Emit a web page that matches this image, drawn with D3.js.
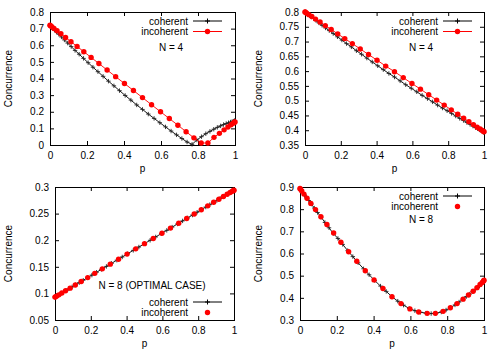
<!DOCTYPE html>
<html>
<head>
<meta charset="utf-8">
<script src="https://cdn.jsdelivr.net/npm/d3@7"></script>
<style>
  html, body { margin: 0; padding: 0; background: #fff; }
  svg { display: block; }
  text { font-family: "Liberation Sans", Arial, Helvetica, sans-serif; font-size: 10px; fill: #000; }
</style>
</head>
<body>
<svg id="chart" width="500" height="350"></svg>
<script>
// ---------------- DATA ----------------
// p sampling of the incoherent series (33 points)
const pIncoherent = [0, 0.0024, 0.0096, 0.0215, 0.0381, 0.0590, 0.0843, 0.1135, 0.1464, 0.1828,
  0.2222, 0.2643, 0.3087, 0.3549, 0.4025, 0.4510, 0.5, 0.5490, 0.5975, 0.6451, 0.6913, 0.7357,
  0.7778, 0.8172, 0.8536, 0.8865, 0.9157, 0.9410, 0.9619, 0.9785, 0.9904, 0.9976, 1];
// p sampling of the coherent series (51 points)
const pCoherent = [0, 0.00099, 0.00394, 0.00886, 0.01571, 0.02447, 0.03511, 0.04759, 0.06185,
  0.07784, 0.09549, 0.11474, 0.13552, 0.15773, 0.18129, 0.20611, 0.23209, 0.25912, 0.28711,
  0.31594, 0.34549, 0.37566, 0.40631, 0.43733, 0.46860, 0.5, 0.53140, 0.56267, 0.59369, 0.62434,
  0.65451, 0.68406, 0.71289, 0.74088, 0.76791, 0.79389, 0.81871, 0.84227, 0.86448, 0.88526,
  0.90451, 0.92216, 0.93815, 0.95241, 0.96489, 0.97553, 0.98429, 0.99114, 0.99606, 0.99901, 1];

// Panel A (top-left, N = 4)
const aCoherent = [0.720, 0.719, 0.715, 0.710, 0.702, 0.692, 0.680, 0.666, 0.650, 0.632, 0.613,
  0.592, 0.569, 0.546, 0.521, 0.495, 0.468, 0.441, 0.413, 0.384, 0.356, 0.327, 0.298, 0.270,
  0.241, 0.214, 0.186, 0.160, 0.134, 0.109, 0.084, 0.061, 0.039, 0.018, 0.004, 0.030, 0.050,
  0.068, 0.082, 0.095, 0.106, 0.115, 0.123, 0.129, 0.134, 0.138, 0.141, 0.143, 0.145, 0.146, 0.146];
const aIncoherent = [0.720, 0.718, 0.712, 0.701, 0.687, 0.669, 0.647, 0.621, 0.593, 0.561, 0.527,
  0.490, 0.451, 0.411, 0.370, 0.328, 0.285, 0.242, 0.200, 0.159, 0.119, 0.080, 0.043, 0.012,
  0.012, 0.046, 0.070, 0.091, 0.108, 0.122, 0.131, 0.137, 0.139];

// Panel B (top-right, N = 4)
const bCoherent = [0.800, 0.800, 0.798, 0.796, 0.793, 0.788, 0.783, 0.778, 0.771, 0.763, 0.755,
  0.746, 0.737, 0.727, 0.716, 0.705, 0.693, 0.682, 0.669, 0.657, 0.644, 0.631, 0.618, 0.605,
  0.592, 0.580, 0.567, 0.554, 0.542, 0.530, 0.518, 0.507, 0.496, 0.485, 0.475, 0.466, 0.457,
  0.448, 0.440, 0.433, 0.426, 0.420, 0.414, 0.409, 0.405, 0.401, 0.398, 0.396, 0.394, 0.393, 0.393];
const bIncoherent = [0.800, 0.799, 0.796, 0.791, 0.785, 0.776, 0.766, 0.754, 0.741, 0.726, 0.710,
  0.693, 0.675, 0.656, 0.637, 0.617, 0.598, 0.578, 0.558, 0.539, 0.520, 0.502, 0.485, 0.469,
  0.454, 0.441, 0.429, 0.419, 0.410, 0.404, 0.399, 0.396, 0.395];

// Panel C (bottom-left, N = 8 optimal case)
const cCoherent = [0.0930, 0.0932, 0.0938, 0.0948, 0.0962, 0.0979, 0.1001, 0.1026, 0.1054, 0.1086,
  0.1122, 0.1161, 0.1202, 0.1247, 0.1294, 0.1344, 0.1397, 0.1451, 0.1507, 0.1565, 0.1624, 0.1685,
  0.1747, 0.1809, 0.1872, 0.1935, 0.1998, 0.2061, 0.2123, 0.2185, 0.2246, 0.2305, 0.2363, 0.2419,
  0.2473, 0.2526, 0.2576, 0.2623, 0.2668, 0.2709, 0.2748, 0.2784, 0.2816, 0.2844, 0.2869, 0.2891,
  0.2908, 0.2922, 0.2932, 0.2938, 0.2940];
const cIncoherent = [0.0930, 0.0935, 0.0949, 0.0973, 0.1007, 0.1049, 0.1099, 0.1158, 0.1224, 0.1297,
  0.1377, 0.1461, 0.1550, 0.1643, 0.1739, 0.1837, 0.1935, 0.2033, 0.2131, 0.2227, 0.2320, 0.2409,
  0.2493, 0.2573, 0.2646, 0.2712, 0.2771, 0.2821, 0.2863, 0.2897, 0.2921, 0.2935, 0.2940];

// Panel D (bottom-right, N = 8)
const dCoherent = [0.893, 0.892, 0.888, 0.883, 0.875, 0.865, 0.853, 0.839, 0.823, 0.805, 0.785,
  0.764, 0.740, 0.716, 0.690, 0.668, 0.641, 0.613, 0.586, 0.558, 0.531, 0.504, 0.478, 0.453,
  0.429, 0.405, 0.385, 0.367, 0.352, 0.342, 0.335, 0.331, 0.329, 0.331, 0.336, 0.345, 0.356,
  0.368, 0.381, 0.394, 0.406, 0.417, 0.428, 0.437, 0.446, 0.454, 0.462, 0.467, 0.473, 0.477, 0.479];
const dIncoherent = [0.893, 0.890, 0.882, 0.868, 0.849, 0.826, 0.798, 0.766, 0.731, 0.693, 0.651,
  0.608, 0.565, 0.522, 0.481, 0.442, 0.405, 0.374, 0.350, 0.336, 0.330, 0.330, 0.339, 0.355,
  0.374, 0.394, 0.413, 0.430, 0.446, 0.460, 0.469, 0.476, 0.479];

// Tick values
const xTicks = [0, 0.2, 0.4, 0.6, 0.8, 1];
const aYTicks = [0, 0.1, 0.2, 0.3, 0.4, 0.5, 0.6, 0.7, 0.8];
const bYTicks = [0.35, 0.4, 0.45, 0.5, 0.55, 0.6, 0.65, 0.7, 0.75, 0.8];
const cYTicks = [0.05, 0.1, 0.15, 0.2, 0.25, 0.3];
const dYTicks = [0.3, 0.4, 0.5, 0.6, 0.7, 0.8, 0.9];

const seriesNames = ["coherent", "incoherent"];
const panelNotes = ["N = 4", "N = 4", "N = 8 (OPTIMAL CASE)", "N = 8"];
const xLabel = "p";
const yLabel = "Concurrence";

// ---------------- LAYOUT ----------------
const panels = [
  { x0: 50, x1: 235, y0: 12, y1: 145, yDom: [0, 0.8], yTicks: aYTicks, coh: aCoherent, inc: aIncoherent,
    incLine: true, legX: 188, legY: 21, note: panelNotes[0], noteX: 171, noteY: 47, yLabX: 8 },
  { x0: 305, x1: 484, y0: 12, y1: 145, yDom: [0.35, 0.8], yTicks: bYTicks, coh: bCoherent, inc: bIncoherent,
    incLine: true, legX: 438, legY: 21, note: panelNotes[1], noteX: 421, noteY: 47, yLabX: 258 },
  { x0: 55, x1: 234, y0: 187, y1: 320, yDom: [0.05, 0.3], yTicks: cYTicks, coh: cCoherent, inc: cIncoherent,
    incLine: false, legX: 188, legY: 302, note: panelNotes[2], noteX: 152, noteY: 285, yLabX: 8 },
  { x0: 300, x1: 484, y0: 187, y1: 320, yDom: [0.3, 0.9], yTicks: dYTicks, coh: dCoherent, inc: dIncoherent,
    incLine: false, legX: 438, legY: 196, note: panelNotes[3], noteX: 421, noteY: 219, yLabX: 258 }
];

const svg = d3.select("#chart");
const RED = "#ff0000";
const BLACK = "#000000";
const TICK = 4;

function crossPath(cx, cy, r) {
  return `M${cx - r},${cy}H${cx + r}M${cx},${cy - r}V${cy + r}`;
}

panels.forEach(P => {
  const x = d3.scaleLinear().domain([0, 1]).range([P.x0, P.x1]);
  const y = d3.scaleLinear().domain(P.yDom).range([P.y1, P.y0]);
  const g = svg.append("g");

  // axes (inward ticks, mirrored)
  const fmt = d => String(d);
  g.append("g").attr("transform", `translate(0,${P.y1})`)
    .call(d3.axisBottom(x).tickValues(xTicks).tickFormat(fmt).tickSizeInner(-TICK).tickSizeOuter(0).tickPadding(7));
  g.append("g").attr("transform", `translate(0,${P.y0})`)
    .call(d3.axisTop(x).tickValues(xTicks).tickFormat("").tickSizeInner(-TICK).tickSizeOuter(0));
  g.append("g").attr("transform", `translate(${P.x0},0)`)
    .call(d3.axisLeft(y).tickValues(P.yTicks).tickFormat(fmt).tickSizeInner(-TICK).tickSizeOuter(0).tickPadding(6));
  g.append("g").attr("transform", `translate(${P.x1},0)`)
    .call(d3.axisRight(y).tickValues(P.yTicks).tickFormat("").tickSizeInner(-TICK).tickSizeOuter(0));
  g.selectAll(".domain").remove();
  g.selectAll(".tick line").attr("stroke", "#000").attr("stroke-width", 1);
  g.selectAll(".tick text").attr("font-size", 10).attr("font-family", '"Liberation Sans", Arial, sans-serif').attr("fill", "#000");

  g.append("rect").attr("x", P.x0 + 0.5).attr("y", P.y0 + 0.5)
    .attr("width", P.x1 - P.x0).attr("height", P.y1 - P.y0)
    .attr("fill", "none").attr("stroke", "#000").attr("stroke-width", 1);

  // labels
  g.append("text").attr("x", (P.x0 + P.x1) / 2).attr("y", P.y1 + 27)
    .attr("text-anchor", "middle").text(xLabel);
  g.append("text").attr("transform", `translate(${P.yLabX + 3.5},${(P.y0 + P.y1) / 2}) rotate(-90)`)
    .attr("text-anchor", "middle").text(yLabel);

  const plot = g.append("g");
  const line = d3.line().x(d => x(d[0])).y(d => y(d[1]));

  // coherent: black line + crosses
  const cohPts = pCoherent.map((p, i) => [p, P.coh[i]]);
  plot.append("path").attr("d", line(cohPts)).attr("fill", "none").attr("stroke", BLACK).attr("stroke-width", 0.9);
  plot.append("path").attr("d", cohPts.map(d => crossPath(x(d[0]), y(d[1]), 2.2)).join(""))
    .attr("fill", "none").attr("stroke", "#222").attr("stroke-width", 0.9);

  // incoherent: red dots (with line in top panels)
  const incPts = pIncoherent.map((p, i) => [p, P.inc[i]]);
  if (P.incLine) {
    plot.append("path").attr("d", line(incPts)).attr("fill", "none").attr("stroke", RED).attr("stroke-width", 0.9);
  }
  plot.selectAll("circle").data(incPts).join("circle")
    .attr("cx", d => x(d[0])).attr("cy", d => y(d[1])).attr("r", 2.7).attr("fill", RED);

  // legend
  const lx0 = P.legX + 5, lx1 = P.legX + 34, lxm = (lx0 + lx1) / 2;
  seriesNames.forEach((name, i) => {
    const ly = P.legY + i * 10.5;
    g.append("text").attr("x", P.legX).attr("y", ly).attr("dy", "0.35em")
      .attr("text-anchor", "end").text(name);
    if (i === 0) {
      g.append("line").attr("x1", lx0).attr("x2", lx1).attr("y1", ly).attr("y2", ly)
        .attr("stroke", BLACK).attr("stroke-width", 1);
      g.append("path").attr("d", crossPath(lxm, ly, 2.5)).attr("stroke", BLACK).attr("stroke-width", 1);
    } else {
      if (P.incLine) {
        g.append("line").attr("x1", lx0).attr("x2", lx1).attr("y1", ly).attr("y2", ly)
          .attr("stroke", RED).attr("stroke-width", 1);
      }
      g.append("circle").attr("cx", lxm).attr("cy", ly).attr("r", 2.7).attr("fill", RED);
    }
  });

  g.append("text").attr("x", P.noteX).attr("y", P.noteY).attr("dy", "0.35em")
    .attr("text-anchor", "middle").text(P.note);
});
</script>
</body>
</html>
